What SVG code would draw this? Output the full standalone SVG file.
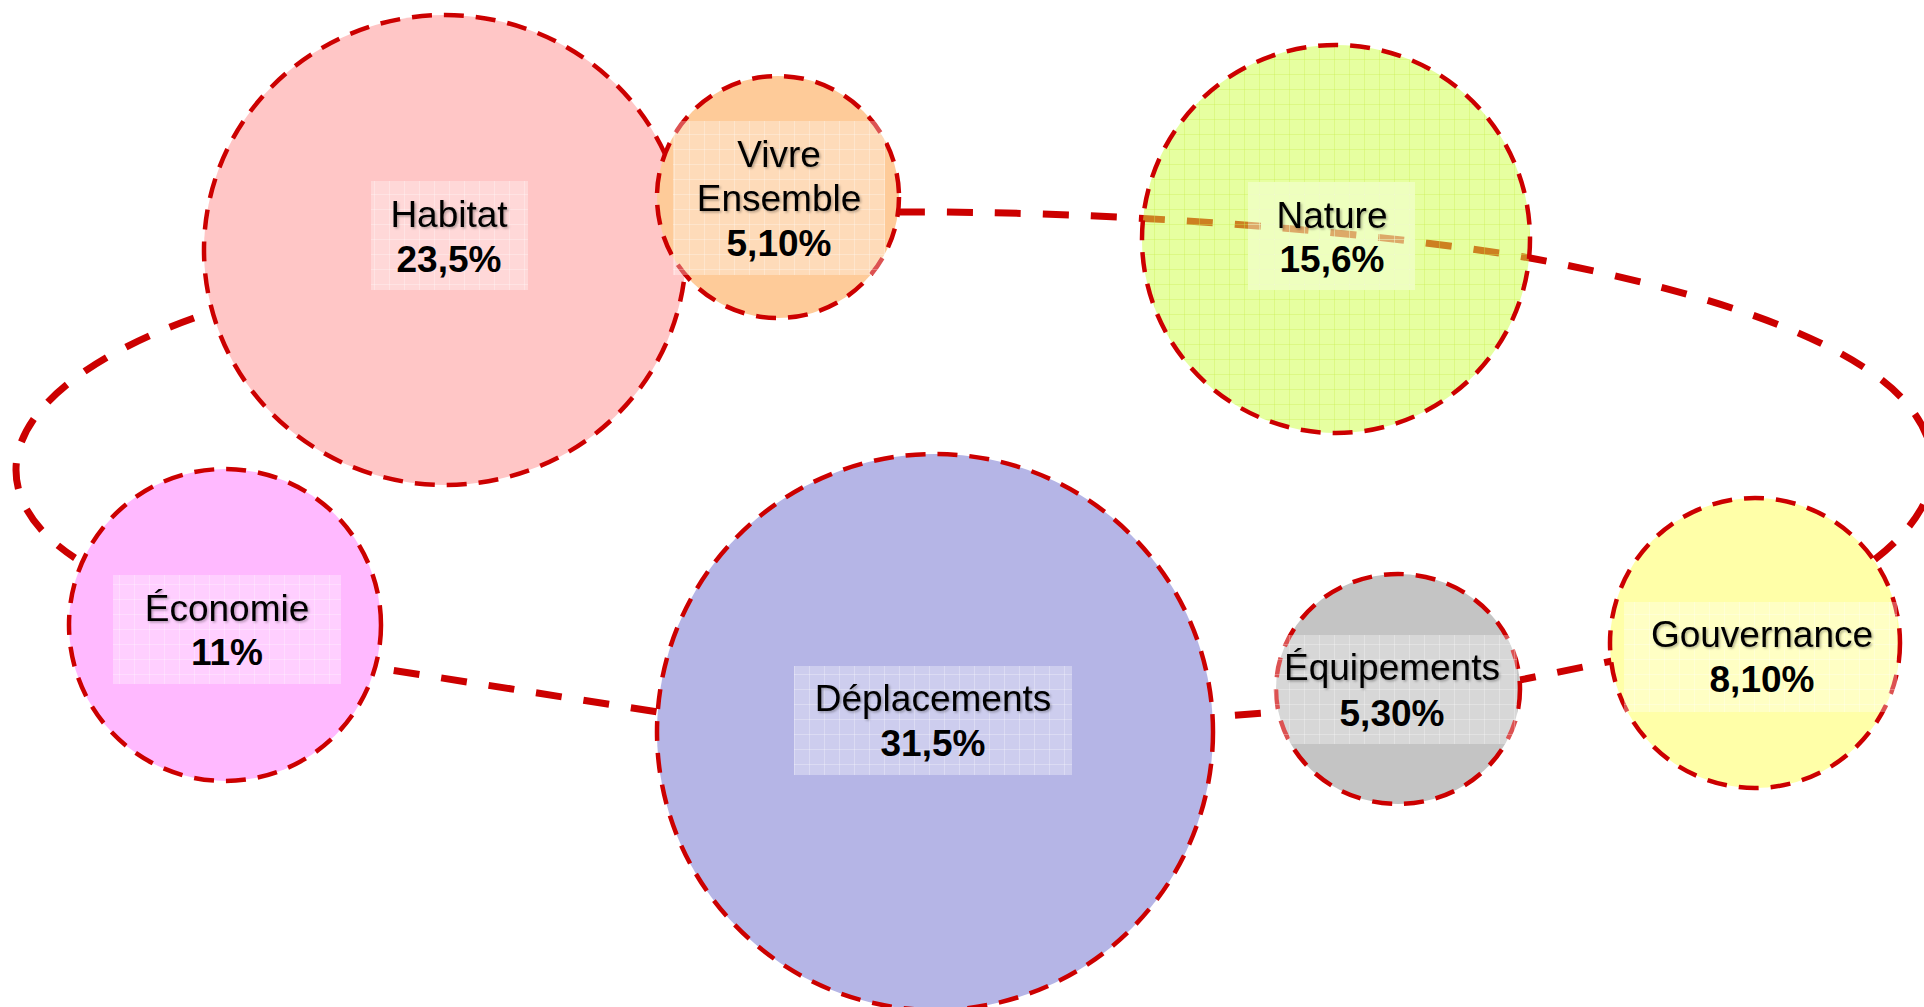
<svg xmlns="http://www.w3.org/2000/svg" width="1924" height="1007" viewBox="0 0 1924 1007">
<defs>
<pattern id="grid" width="15" height="15" patternUnits="userSpaceOnUse"><path d="M15 0V15M0 15H15" stroke="#ffffff" stroke-width="1" stroke-opacity="0.55" fill="none"/></pattern>
<pattern id="gridN" width="15" height="15" patternUnits="userSpaceOnUse"><path d="M15 0V15M0 15H15" stroke="#c8ef50" stroke-width="1" stroke-opacity="0.7" fill="none"/></pattern>
<filter id="sh" x="-10%" y="-30%" width="120%" height="160%"><feDropShadow dx="1.5" dy="1.5" stdDeviation="0.8" flood-color="#000000" flood-opacity="0.3"/></filter>
</defs>
<style>
.conn{fill:none;stroke:#cc0000;stroke-width:7;stroke-dasharray:26 22}
.node{stroke:#cc0000;stroke-width:4.5;stroke-dasharray:20 12}
.box{fill:#ffffff;fill-opacity:0.32}
.boxg{fill:url(#grid)}
.name{font-family:"Liberation Sans",Arial,sans-serif;font-size:37px;fill:#000;text-anchor:middle;filter:url(#sh)}
.pct{font-family:"Liberation Sans",Arial,sans-serif;font-size:37px;font-weight:bold;fill:#000;text-anchor:middle}
</style>
<rect width="1924" height="1007" fill="#ffffff"/>
<g id="connectors">
<path class="conn" d="M194,318 C90,355 16,410 16,470 C16,505 40,535 75,558"/>
<path class="conn" style="stroke-dashoffset:26" d="M372,667 L658,712"/>
<path class="conn" style="stroke-dashoffset:26" d="M1213,717 L1278,712"/>
<path class="conn" style="stroke-dashoffset:10" d="M1520,680 L1612,661"/>
<path class="conn" d="M899,212 C1100,211 1350,228 1530,258 C1700,290 1860,340 1912,410 C1944,453 1945,505 1874,560"/>
</g>
<g id="habitat">
<ellipse class="node" cx="445" cy="250" rx="241" ry="235" fill="#ffc6c6"/>
<rect class="box" x="371" y="181" width="157" height="109"/><rect class="boxg" x="371" y="181" width="157" height="109"/>
<text class="name" x="449" y="227">Habitat</text>
<text class="pct" x="449" y="272">23,5%</text>
</g>
<g id="vivre-ensemble">
<circle class="node" cx="778" cy="197" r="121" fill="#fecb99"/>
<rect class="box" x="673" y="121" width="212" height="154"/><rect class="boxg" x="673" y="121" width="212" height="154"/>
<text class="name" x="779" y="167">Vivre</text>
<text class="name" x="779" y="211">Ensemble</text>
<text class="pct" x="779" y="256">5,10%</text>
</g>
<g id="nature">
<circle cx="1336" cy="239" r="194" fill="#cdff41" fill-opacity="0.5"/>
<circle cx="1336" cy="239" r="194" fill="url(#gridN)"/>
<circle class="node" cx="1336" cy="239" r="194" fill="none"/>
<rect class="box" x="1248" y="182" width="167" height="108"/><rect class="boxg" x="1248" y="182" width="167" height="108"/>
<text class="name" x="1332" y="228">Nature</text>
<text class="pct" x="1332" y="272">15,6%</text>
</g>
<g id="economie">
<circle class="node" cx="225" cy="625" r="156" fill="#ffb9ff"/>
<rect class="box" x="113" y="575" width="228" height="109"/><rect class="boxg" x="113" y="575" width="228" height="109"/>
<text class="name" x="227" y="621">Économie</text>
<text class="pct" x="227" y="665">11%</text>
</g>
<g id="deplacements">
<circle class="node" cx="935" cy="732" r="278" fill="#b5b5e6"/>
<rect class="box" x="794" y="666" width="278" height="109"/><rect class="boxg" x="794" y="666" width="278" height="109"/>
<text class="name" x="933" y="711">Déplacements</text>
<text class="pct" x="933" y="756">31,5%</text>
</g>
<g id="equipements">
<ellipse class="node" cx="1398" cy="689" rx="122" ry="115" fill="#c4c4c4"/>
<rect class="box" x="1263" y="635" width="254" height="109"/><rect class="boxg" x="1263" y="635" width="254" height="109"/>
<text class="name" x="1392" y="680">Équipements</text>
<text class="pct" x="1392" y="726">5,30%</text>
</g>
<g id="gouvernance">
<circle class="node" cx="1755" cy="643" r="145" fill="#ffffa8"/>
<rect class="box" x="1624" y="602" width="273" height="110"/><rect class="boxg" x="1624" y="602" width="273" height="110"/>
<text class="name" x="1762" y="647">Gouvernance</text>
<text class="pct" x="1762" y="692">8,10%</text>
</g>
</svg>
